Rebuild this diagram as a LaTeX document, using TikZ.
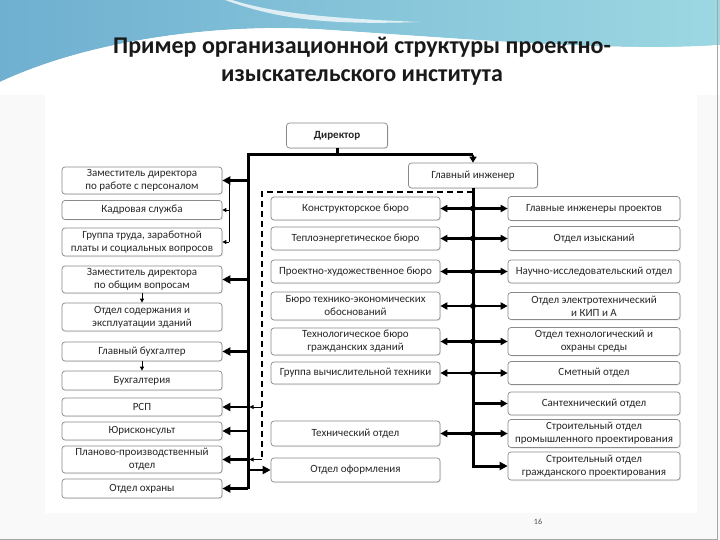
\documentclass[tikz,border=0pt]{standalone}
\usepackage{fontspec}
\setmainfont{Carlito}
\usetikzlibrary{arrows.meta,shadows}
\definecolor{boxline}{HTML}{8A8A8A}
\definecolor{waveL}{HTML}{6FAFD0}
\definecolor{waveR}{HTML}{9CD8E2}
\definecolor{slidebg}{HTML}{F9F9F9}
\begin{document}
\begin{tikzpicture}[x=1pt,y=-1pt,
  box/.style={draw=boxline, line width=0.7pt, rounded corners=3pt, fill=white,
    align=center, inner sep=1pt, font=\fontsize{11}{13}\selectfont, text=black!85,
    drop shadow={opacity=0.15, shadow xshift=1pt, shadow yshift=-1pt}},
  lbox/.style={box, minimum width=160pt},
  mbox/.style={box, minimum width=169pt},
  rbox/.style={box, minimum width=172pt},
  vline/.style={line width=3pt, line join=miter},
  tconn/.style={line width=2.6pt, -{Triangle[length=8pt,width=8pt]}},
  dconn/.style={line width=2.2pt, -{Triangle[length=7pt,width=7pt]}},
  thinarrow/.style={line width=0.9pt, -{Triangle[length=4pt,width=4pt]}},
  dashline/.style={line width=1.5pt, dash pattern=on 6pt off 4pt},
  junction/.style={circle, fill=black, inner sep=0pt, minimum size=6pt}
]
\useasboundingbox (0,0) rectangle (720,540);
% slide background
\fill[slidebg] (0,0) rectangle (720,540);
\shade[left color=waveL, right color=waveR] (0,0) -- (720,0) -- (720,45)
  .. controls (620,52) and (480,40) .. (330,30)
  .. controls (220,22) and (90,40) .. (0,82) -- cycle;
\fill[white, opacity=0.75] (232,0) .. controls (270,12) and (320,18) .. (420,22)
  .. controls (330,25) and (280,20) .. (225,0) -- cycle;
\fill[white] (0,82) .. controls (90,40) and (220,22) .. (330,30)
  .. controls (480,40) and (620,52) .. (720,45) -- (720,95) -- (0,95) -- cycle;
\fill[white] (45,95) rectangle (697,513);
\draw[gray!70, line width=1pt] (0,539) -- (717,539) -- (717,0);
% title
\node[font=\fontsize{24}{28}\selectfont\bfseries, text=black!90] (t1) at (362,47) {Пример организационной структуры проектно-};
\node[font=\fontsize{24}{28}\selectfont\bfseries, text=black!90] (t2) at (362,77) {изыскательского института};
% top nodes
\node[box, minimum width=101pt, minimum height=25pt, font=\fontsize{11}{13}\selectfont\bfseries] (dir) at (337,135.5) {Директор};
\node[box, minimum width=129pt, minimum height=25pt] (gi) at (473,175.5) {Главный инженер};
% left column
\node[lbox, minimum height=27pt] (l1) at (142,180.5) {Заместитель директора\\по работе с персоналом};
\node[lbox, minimum height=19pt] (l2) at (142,210) {Кадровая служба};
\node[lbox, minimum height=28pt] (l3) at (142,242) {Группа труда, заработной\\платы и социальных вопросов};
\node[lbox, minimum height=27pt] (l4) at (142,279.5) {Заместитель директора\\по общим вопросам};
\node[lbox, minimum height=28pt] (l5) at (142,317) {Отдел содержания и\\эксплуатации зданий};
\node[lbox, minimum height=19pt] (l6) at (142,351.5) {Главный бухгалтер};
\node[lbox, minimum height=19pt] (l7) at (142,380.5) {Бухгалтерия};
\node[lbox, minimum height=18pt] (l8) at (142,407) {РСП};
\node[lbox, minimum height=18pt] (l9) at (142,431) {Юрисконсульт};
\node[lbox, minimum height=27pt] (l10) at (142,459.5) {Планово-производственный\\отдел};
\node[lbox, minimum height=19pt] (l11) at (142,488.5) {Отдел охраны};
% middle column
\node[mbox, minimum height=23pt] (m1) at (355.5,208.5) {Конструкторское бюро};
\node[mbox, minimum height=23pt] (m2) at (355.5,238.5) {Теплоэнергетическое бюро};
\node[mbox, minimum height=23pt] (m3) at (355.5,271.5) {Проектно-художественное бюро};
\node[mbox, minimum height=28pt] (m4) at (355.5,306) {Бюро технико-экономических\\обоснований};
\node[mbox, minimum height=27pt] (m5) at (355.5,341.5) {Технологическое бюро\\гражданских зданий};
\node[mbox, minimum height=22pt] (m6) at (355.5,373) {Группа вычислительной техники};
\node[mbox, minimum height=25pt] (m7) at (355.5,433.5) {Технический отдел};
\node[mbox, minimum height=24pt] (m8) at (355.5,470) {Отдел оформления};
% right column
\node[rbox, minimum height=24pt] (r1) at (594,208.5) {Главные инженеры проектов};
\node[rbox, minimum height=24pt] (r2) at (594,238.5) {Отдел изысканий};
\node[rbox, minimum height=23pt] (r3) at (594,271.5) {Научно-исследовательский отдел};
\node[rbox, minimum height=27pt] (r4) at (594,306) {Отдел электротехнический\\и КИП и А};
\node[rbox, minimum height=28pt] (r5) at (594,341.5) {Отдел технологический и\\охраны среды};
\node[rbox, minimum height=23pt] (r6) at (594,373) {Сметный отдел};
\node[rbox, minimum height=23pt] (r7) at (594,403.5) {Сантехнический отдел};
\node[rbox, minimum height=28pt] (r8) at (594,433.5) {Строительный отдел\\промышленного проектирования};
\node[rbox, minimum height=28pt] (r9) at (594,466) {Строительный отдел\\гражданского проектирования};
% key coordinates
\coordinate (vl) at (248,155);
\coordinate (sl) at (229,180.5);
\coordinate (dtop) at (262,192);
% director trunk
\draw[vline] (dir.south) -- (dir.south |- vl);
\draw[vline] (vl |- l11.east) -- (vl) -- (gi.north |- vl);
\draw[line width=2.6pt, -{Triangle[length=6pt,width=7pt]}] (gi.north |- vl) -- (gi.north);
% left arrows
\foreach \n in {l1,l4,l6,l8,l9,l10,l11}
  \draw[tconn] (vl |- \n.east) -- (\n.east);
\draw[tconn] (vl |- m8.west) -- (m8.west);
% thin subordinate links
\draw[line width=0.9pt] (sl) -- (sl |- l3.east);
\draw[thinarrow] (sl |- l2.east) -- (l2.east);
\draw[thinarrow] (sl |- l3.east) -- (l3.east);
\draw[thinarrow] (l4.south) -- (l5.north);
\draw[thinarrow] (l6.south) -- (l7.north);
% dashed chief engineer link
\draw[dashline] (gi.south |- dtop) -- (dtop) -- (dtop |- l10.east);
\draw[thinarrow, shorten >=1.5pt] (dtop |- l10.east) -- (vl |- l10.east);
\draw[thinarrow, shorten >=1.5pt] (dtop |- l8.east) -- (vl |- l8.east);
% right trunk
\draw[vline, -{Triangle[length=8pt,width=8pt]}] (gi.south) -- (gi.south |- r9.west) -- (r9.west);
\foreach \m/\r in {m1/r1,m2/r2,m3/r3,m4/r4,m5/r5,m6/r6,m7/r8}{
  \draw[dconn] (gi.south |- \m.east) -- (\m.east);
  \draw[dconn] (gi.south |- \m.east) -- (\r.west |- \m.east);
  \node[junction] at (gi.south |- \m.east) {};
}
\draw[dconn] (gi.south |- r7.west) -- (r7.west);
% page number
\node[font=\fontsize{8}{9}\selectfont, text=black!70] (pg) at (538,522) {16};
\end{tikzpicture}
\end{document}
